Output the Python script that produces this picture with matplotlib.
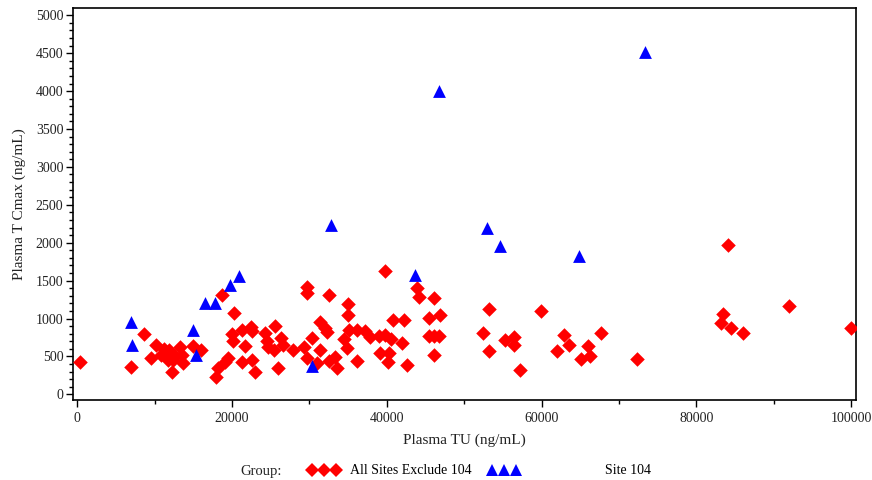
import matplotlib.pyplot as plt
from matplotlib.ticker import MultipleLocator
from matplotlib.lines import Line2D

plt.rcParams['font.family'] = ['Liberation Serif', 'DejaVu Serif']

# Plasma TU vs Cmax, all sites except 104
other_tu = [300, 6900, 8630, 9530, 10140, 10790, 11220, 11860, 11700, 12210,
            12420, 12680, 13290, 13500, 13710, 14930, 16000, 17900, 18240, 19100,
            19530, 18760, 20300, 19970, 20180, 21270, 22470, 22600, 21690, 21270,
            22560, 23000, 24280, 24500, 24710, 25360, 25600, 26300, 26650, 26000,
            27940, 29680, 29680, 32470, 29240, 29680, 30320, 31400, 32000, 32300,
            31400, 30970, 32470, 33340, 33560, 35000, 35000, 35060, 34410, 34850,
            36150, 36150, 37220, 37870, 38940, 39810, 39810, 39160, 40340, 40100,
            40770, 40550, 42170, 41960, 42610, 43850, 44150, 46050, 45400, 46920,
            45400, 46050, 46700, 46050, 53170, 52440, 53170, 55300, 56400, 56500,
            57200, 59950, 62870, 62020, 63520, 66050, 66230, 65160, 67700, 72370,
            84140, 83490, 83230, 84530, 86080, 92030, 99950]
other_cmax = [420, 360, 790, 475, 645, 518, 595, 584, 452, 298,
              455, 500, 628, 520, 409, 640, 590, 224, 350, 430,
              475, 1315, 1068, 795, 700, 848, 892, 840, 632, 420,
              452, 290, 804, 700, 628, 580, 900, 738, 650, 343,
              584, 1419, 1332, 1310, 628, 475, 738, 950, 870, 826,
              584, 409, 440, 490, 343, 1185, 1050, 848, 730, 607,
              440, 848, 835, 760, 775, 780, 1630, 541, 541, 430,
              980, 730, 980, 680, 386, 1398, 1280, 1266, 1010, 1046,
              775, 775, 769, 518, 1121, 804, 575, 716, 760, 646,
              325, 1095, 782, 575, 650, 641, 505, 470, 810, 461,
              1969, 1055, 944, 870, 813, 1169, 870]

# Site 104
site_tu = [6900, 7120, 15000, 15350, 16520, 17810, 19750, 20900, 30300,
           32800, 43700, 46700, 53000, 54600, 64800, 73400]
site_cmax = [950, 650, 848, 518, 1200, 1200, 1442, 1560, 375,
             2240, 1570, 4000, 2200, 1950, 1820, 4510]

fig = plt.figure(figsize=(8.72, 4.8), dpi=100)
ax = fig.add_axes([73 / 872, 1 - 400 / 480, 783 / 872, 392 / 480])

ax.scatter(other_tu, other_cmax, marker='D', s=55, color='#ff0000', linewidths=0, zorder=3)
ax.scatter(site_tu, site_cmax, marker='^', s=85, color='#0000ff', linewidths=0, zorder=3)

ax.set_xlim(-556, 100646)
ax.set_ylim(-75, 5096)
ax.xaxis.set_major_locator(MultipleLocator(20000))
ax.xaxis.set_minor_locator(MultipleLocator(10000))
ax.yaxis.set_major_locator(MultipleLocator(500))
ax.yaxis.set_minor_locator(MultipleLocator(100))
ax.tick_params(which='major', direction='out', length=5, width=1, labelsize=10,
               colors='black', labelcolor='#222222')
ax.tick_params(which='minor', direction='out', length=3, width=1)
ax.tick_params(axis='x', pad=4)
ax.tick_params(axis='y', pad=2)
for sp in ax.spines.values():
    sp.set_linewidth(1.2)

ax.set_xlabel('Plasma TU (ng/mL)', fontsize=11, color='#222222', labelpad=6)
ax.set_ylabel('Plasma T Cmax (ng/mL)', fontsize=11, color='#222222', labelpad=7)

# bottom legend row
fig.text(240 / 872, 1 - 471 / 480, 'Group:', fontsize=10.5, color='#222222',
         ha='left', va='center')
h1 = Line2D([], [], ls='none', marker='D', ms=7.5, color='#ff0000', mew=0)
h2 = Line2D([], [], ls='none', marker='^', ms=9, color='#0000ff', mew=0)
fig.legend([h1], ['All Sites Exclude 104'], loc='center left',
           bbox_to_anchor=(308 / 872, 1 - 471 / 480), numpoints=3,
           handlelength=2.3, handletextpad=0.7, frameon=False, borderpad=0,
           borderaxespad=0, prop={'size': 10})
fig.legend([h2], ['Site 104'], loc='center left',
           bbox_to_anchor=(488 / 872, 1 - 471 / 480), numpoints=3,
           handlelength=2.3, handletextpad=6.1, frameon=False, borderpad=0,
           borderaxespad=0, prop={'size': 10})

fig.savefig('out.png', dpi=100)
